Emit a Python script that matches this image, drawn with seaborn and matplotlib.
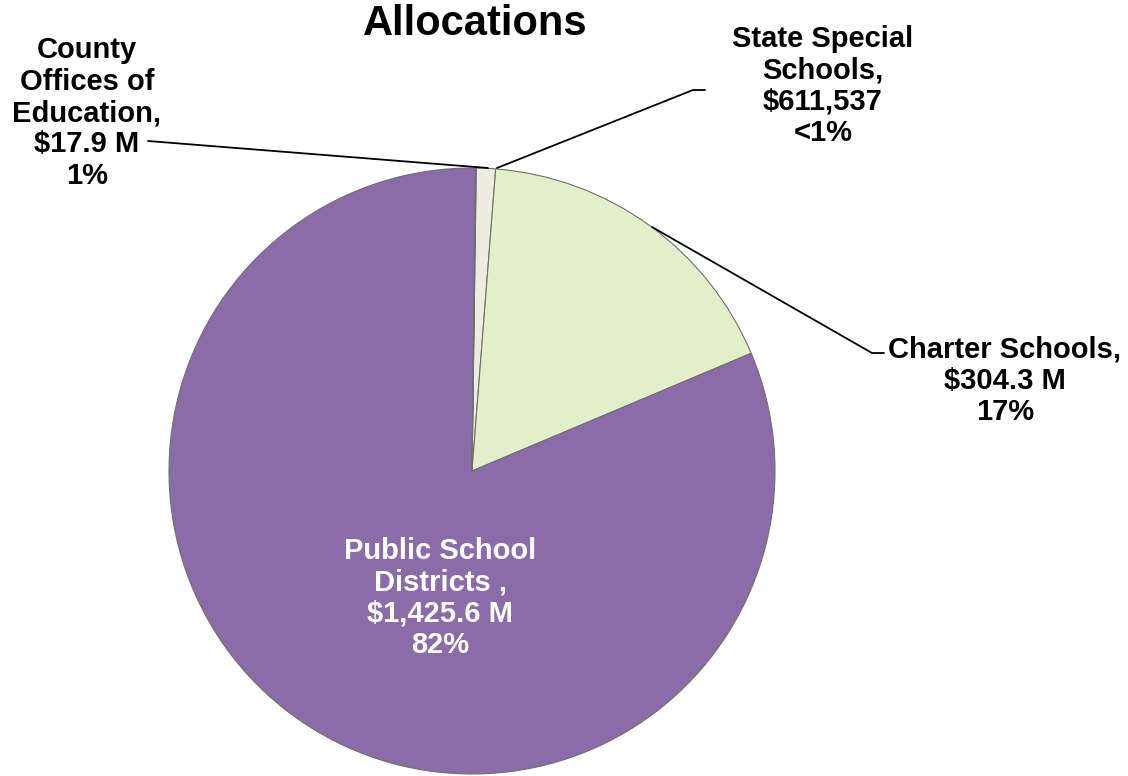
import matplotlib.pyplot as plt
import seaborn as sns

# allocation data ($ millions), clockwise from just right of 12 o'clock
categories = ["County Offices of Education", "Charter Schools",
              "Public School Districts", "State Special Schools"]
amounts = [17.9, 304.3, 1425.6, 0.611537]
colors = ["#eeece1", "#e3efc9", "#8a6ca9", "#c9c5b8"]

label_texts = [
    "County\nOffices of\nEducation,\n$17.9 M\n1%",
    "Charter Schools,\n$304.3 M\n17%",
    "Public School\nDistricts ,\n$1,425.6 M\n82%",
    "State Special\nSchools,\n$611,537\n<1%",
]

sns.set_theme(style="white")
plt.rcParams['font.family'] = ['Liberation Sans', 'DejaVu Sans']
plt.rcParams['text.color'] = 'black'

W, H = 1128, 776
fig = plt.figure(figsize=(W / 100, H / 100), dpi=100)
ax = fig.add_axes([0, 0, 1, 1])

cx, cy, r = 472, H - 471, 303
wedges, _ = ax.pie(amounts, colors=colors, startangle=89.2, counterclock=False,
                   center=(cx, cy), radius=r, frame=True,
                   wedgeprops=dict(edgecolor="#6f6f6f", linewidth=0.8))
ax.set_xlim(0, W)
ax.set_ylim(0, H)
ax.set_aspect('equal')
ax.axis('off')

fs = 21
common = dict(ha='center', va='center', fontsize=fs, fontweight='bold', linespacing=1.15)

ax.text(475, H - 24, "Allocations", ha='center', va='center', fontsize=30,
        fontweight='bold', color='black')

# County Offices
ax.text(87, H - 113, label_texts[0], color='black', **common)
ax.plot([148, 488], [H - 141, H - 168], color='black', lw=1.3)

# State Special
ax.text(823, H - 86, label_texts[3], color='black', **common)
ax.plot([705, 693, 497], [H - 90, H - 90, H - 168], color='black', lw=1.3)

# Charter
ax.text(1005, H - 381, label_texts[1], color='black', **common)
ax.plot([652, 872, 884], [H - 227, H - 353, H - 353], color='black', lw=1.3)

# Public School Districts
ax.text(440, H - 598, label_texts[2], color='white', **common)

fig.savefig("out.png", dpi=100)
